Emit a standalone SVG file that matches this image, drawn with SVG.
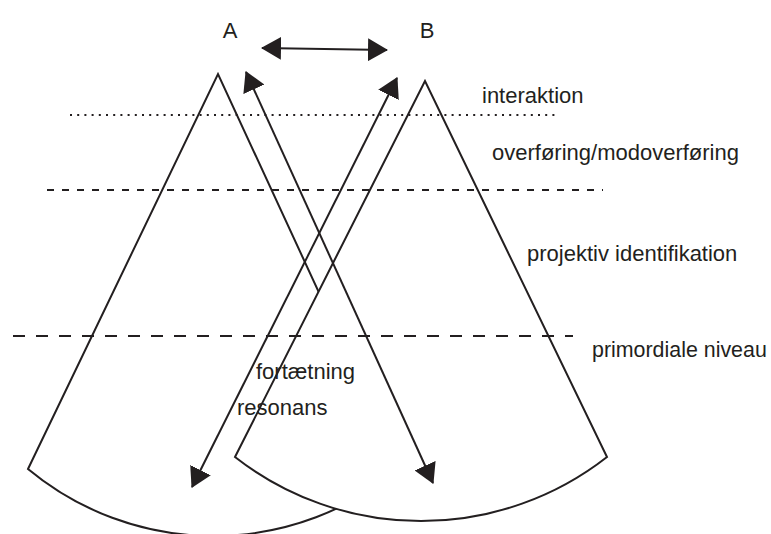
<svg xmlns="http://www.w3.org/2000/svg" width="771" height="534" viewBox="0 0 771 534">
<style>
.cone{fill:#fff;stroke:#231f20;stroke-width:2;stroke-linejoin:miter}
.lvl{fill:none;stroke:#231f20;stroke-width:2}
.arr{fill:none;stroke:#231f20;stroke-width:2;marker-start:url(#ah);marker-end:url(#ah)}
text{font-family:"Liberation Sans",Arial,sans-serif;font-size:22px;fill:#231f20}
</style>
<defs>
<marker id="ah" viewBox="0 0 20 23" refX="19" refY="11.5" markerWidth="20" markerHeight="23" markerUnits="userSpaceOnUse" orient="auto-start-reverse">
<path d="M0,0 L20,11.5 L0,23 z" fill="#231f20"/>
</marker>
</defs>
<rect width="771" height="534" fill="#fff"/>
<g id="nodeA">
<path class="cone" d="M28,469 L218,74 L400,468 A290,290 0 0 1 28,469 Z"/>
<text x="230" y="38" text-anchor="middle">A</text>
</g>
<g id="nodeB">
<path class="cone" d="M235,457 L425,81 L607,457 A302,302 0 0 1 235,457 Z"/>
<text x="427" y="38" text-anchor="middle">B</text>
</g>
<g id="levels">
<line class="lvl" x1="70" y1="115" x2="556" y2="115" stroke-dasharray="2 5.2"/>
<line class="lvl" x1="47" y1="190" x2="603" y2="190" stroke-dasharray="7 8"/>
<line class="lvl" x1="13" y1="336" x2="573" y2="336" stroke-dasharray="12 11"/>
<text x="482" y="103">interaktion</text>
<text x="492" y="160">overføring/modoverføring</text>
<text x="527" y="261">projektiv identifikation</text>
<text x="592" y="357" style="font-size:21.4px">primordiale niveau</text>
</g>
<g id="connectors">
<line class="arr" x1="262" y1="48" x2="387" y2="50"/>
<line class="arr" x1="246" y1="72" x2="433" y2="483"/>
<line class="arr" x1="397" y1="78" x2="192" y2="487"/>
</g>
<g id="labels">
<text x="256" y="379">fortætning</text>
<text x="237" y="415">resonans</text>
</g>
</svg>
